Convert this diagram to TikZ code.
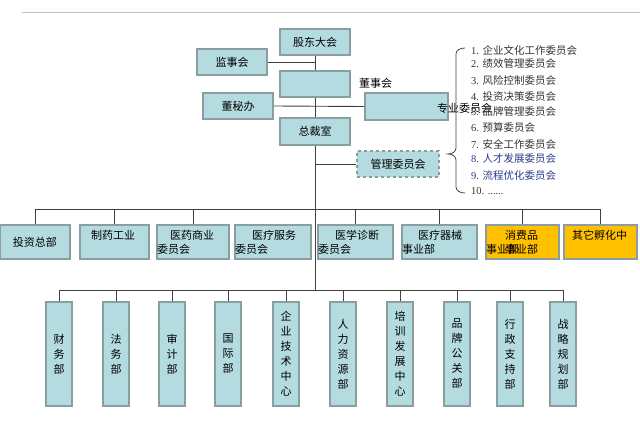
\documentclass[tikz,border=0pt]{standalone}
\usepackage{fontspec}
\setmainfont{Liberation Serif}
\newfontfamily\cjk{Noto Sans CJK SC}
\usetikzlibrary{positioning}
\definecolor{boxfill}{HTML}{B4DCE0}
\definecolor{boxline}{HTML}{8A9EA0}
\definecolor{hotfill}{HTML}{FFC000}
\definecolor{wirecol}{HTML}{404040}
\definecolor{listblue}{HTML}{2A3A8A}
\tikzset{
    unit/.style={
    rectangle,draw=boxline,line width=1.6pt,fill=boxfill,inner sep=0pt,
    font=\cjk\fontsize{11}{14}\selectfont
    },
    dunit/.style={
    unit,dashed
    },
    wunit/.style={
    unit,minimum height=34pt,align=left
    },
    hunit/.style={
    wunit,fill=hotfill
    },
    vunit/.style={
    unit,minimum width=26pt,minimum height=104pt,align=center,
    font=\cjk\fontsize{11}{15}\selectfont
    },
    plain/.style={
    inner sep=0pt,font=\cjk\fontsize{11}{14}\selectfont
    },
    listitem/.style={
    anchor=west,inner sep=0pt,text=black!80,font=\fontsize{10.5}{12}\selectfont
    },
    wire/.style={
    draw=wirecol,line width=0.9pt
    },
}

\begin{document}
\begin{tikzpicture}[x=1pt,y=-1pt]
   \useasboundingbox (0,0) rectangle (640,422);
   \draw[black!25,line width=0.8pt] (22,12) -- (640,12);

   % top of the chart
   \node[unit,minimum width=70pt,minimum height=26pt] (GDDH) at (315,42) {股东大会};
   \node[unit,minimum width=70pt,minimum height=26pt] (JSH) at (232,62) {监事会};
   \node[unit,minimum width=70pt,minimum height=26pt] (DSH) at (315,84) {};
   \node[plain] (DSHlab) at (375.5,83) {董事会};
   \node[unit,minimum width=70pt,minimum height=26pt] (DMB) at (238,106) {董秘办};
   \node[unit,minimum width=83pt,minimum height=27pt] (ZYWH) at (406.5,106.5) {};
   \node[plain] (ZYWHlab) at (464.5,108) {专业委员会};
   \node[unit,minimum width=70pt,minimum height=27pt] (ZCS) at (315,131.5) {总裁室};
   \node[dunit,minimum width=82pt,minimum height=26pt] (GLWH) at (398,164) {管理委员会};

   \coordinate (MBUS) at (315,209);
   \coordinate (BBUS) at (315,290);

   \path[wire]
    (GDDH) edge (DSH)
    (DSH)  edge (ZCS)
    (JSH.east) edge (JSH.east -| GDDH.south)
    (DMB.east) edge (ZYWH.west)
    (GLWH.west) edge (GLWH.west -| ZCS.south)
    (ZCS.south) edge (BBUS);

   % committees
   \draw[wire,line width=0.8pt] (465,48) to[out=180,in=90] (456,54) -- (456,148)
     to[out=-90,in=0] (448,154) to[out=0,in=90] (456,160) -- (456,187)
     to[out=-90,in=180] (465,193);
   \foreach \t/\y [count=\k] in {
     {1. {\cjk 企业文化工作委员会}}/50,
     {2. {\cjk 绩效管理委员会}}/64,
     {3. {\cjk 风险控制委员会}}/80,
     {4. {\cjk 投资决策委员会}}/97,
     {5. {\cjk 品牌管理委员会}}/112,
     {6. {\cjk 预算委员会}}/128,
     {7. {\cjk 安全工作委员会}}/144,
     {\color{listblue}8. {\cjk 人才发展委员会}}/159,
     {\color{listblue}9. {\cjk 流程优化委员会}}/176,
     {10. ......}/191}
     \node[listitem] (LI\k) at (471,\y) {\t};

   % middle row
   \node[wunit,text width=70pt,align=center] (TZZB) at (35,242) {投资总部};
   \node[wunit,text width=69pt] (ZYGY) at (114.5,242) {\hspace*{11pt}制药工业\\\mbox{}};
   \node[wunit,text width=72pt] (YYSY) at (193,242) {\hspace*{13pt}医药商业\\委员会};
   \node[wunit,text width=76pt] (YLFW) at (273,242) {\hspace*{17pt}医疗服务\\委员会};
   \node[wunit,text width=75pt] (YXZD) at (355.5,242) {\hspace*{17pt}医学诊断\\委员会};
   \node[wunit,text width=75pt] (YLQX) at (439.5,242) {\hspace*{16pt}医疗器械\\事业部};
   \node[hunit,text width=73pt] (XFP) at (522.5,242) {\hspace*{19pt}消费品\\事业部\hspace*{-14pt}事业部};
   \node[hunit,text width=73pt] (QTFH) at (600.5,242) {\hspace*{8pt}其它孵化中\\\mbox{}};

   \draw[wire] (TZZB.north |- MBUS) -- (QTFH.north |- MBUS);
   \foreach \n in {TZZB,ZYGY,YYSY,YXZD,YLQX,XFP,QTFH}
     \draw[wire] (\n.north |- MBUS) -- (\n.north);

   % bottom row
   \node[vunit] (CWB) at (59,354) {财\\务\\部};
   \node[vunit] (FWB) at (116,354) {法\\务\\部};
   \node[vunit] (SJB) at (172,354) {审\\计\\部};
   \node[vunit] (GJB) at (228,354) {国\\际\\部};
   \node[vunit] (JSZX) at (286,354) {企\\业\\技\\术\\中\\心};
   \node[vunit] (RLZY) at (343,354) {人\\力\\资\\源\\部};
   \node[vunit] (PXFZ) at (400,354) {培\\训\\发\\展\\中\\心};
   \node[vunit] (PPGG) at (457,354) {品\\牌\\公\\关\\部};
   \node[vunit] (XZZC) at (510,354) {行\\政\\支\\持\\部};
   \node[vunit] (ZLGH) at (563,354) {战\\略\\规\\划\\部};

   \draw[wire] (CWB.north |- BBUS) -- (ZLGH.north |- BBUS);
   \foreach \n in {CWB,FWB,SJB,GJB,JSZX,RLZY,PXFZ,PPGG,XZZC,ZLGH}
     \draw[wire] (\n.north |- BBUS) -- (\n.north);
\end{tikzpicture}
\end{document}
